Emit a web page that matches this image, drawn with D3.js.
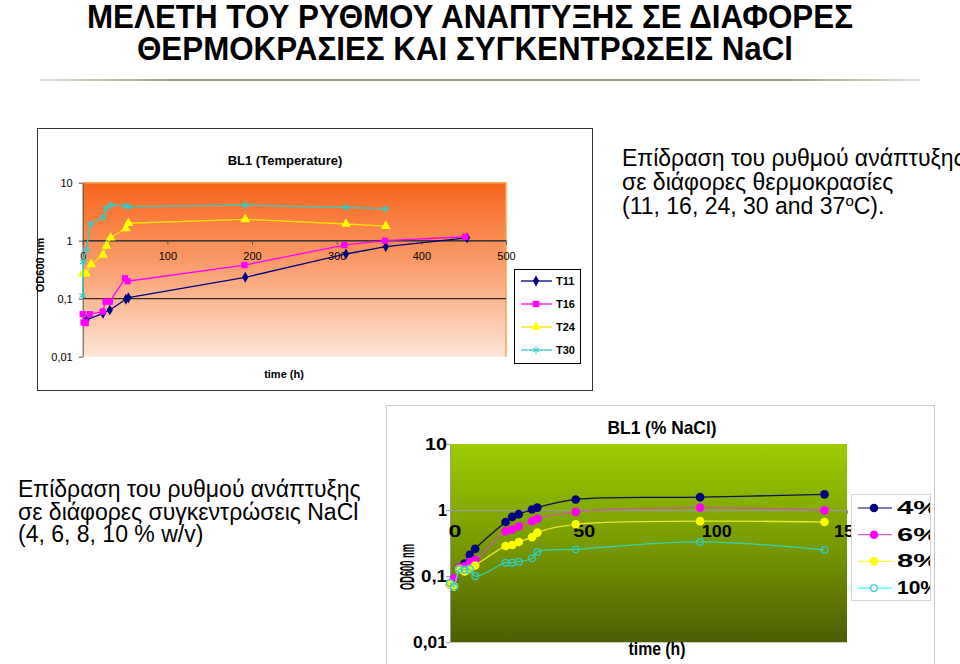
<!DOCTYPE html>
<html>
<head>
<meta charset="utf-8">
<script src="https://cdn.jsdelivr.net/npm/d3@7"></script>
<style>
  body { margin: 0; background: #fff; }
  svg { display: block; font-family: "Liberation Sans", Arial, sans-serif; }
</style>
</head>
<body>
<svg id="slide" width="960" height="664"></svg>
<script>
// ---- top chart data: BL1 (Temperature) ----
const t11Hours = [4.5, 24, 32, 51, 54, 192, 311, 358, 454];
const t11OD    = [0.043, 0.056, 0.064, 0.098, 0.104, 0.234, 0.59, 0.79, 1.12];
const t16Hours = [0, 1, 3.5, 8.5, 23.5, 27, 32, 50, 53, 191, 309, 357, 452];
const t16OD    = [0.054, 0.039, 0.038, 0.054, 0.06, 0.089, 0.089, 0.225, 0.2, 0.38, 0.84, 1.0, 1.17];
const t24Hours = [0, 4, 10, 24, 28, 33, 51, 54, 192, 311, 358];
const t24OD    = [0.27, 0.27, 0.39, 0.57, 0.81, 1.13, 1.63, 2.0, 2.34, 1.94, 1.79];
const t30Hours = [0, 0.7, 4, 9.4, 24, 27.5, 33, 51, 54, 192, 311, 358];
const t30OD    = [0.113, 0.43, 0.69, 1.94, 2.53, 3.6, 4.1, 3.96, 3.86, 4.1, 3.76, 3.56];
const tempNames = ["T11", "T16", "T24", "T30"];
const tempXTicks = [0, 100, 200, 300, 400, 500];

// ---- bottom chart data: BL1 (% NaCl) ----
const naclHours = [0, 1.5, 3.5, 5.5, 7.5, 9.5, 21, 23.5, 26, 31, 33, 47.5, 94.5, 141.5];
const nacl4  = [0.075, 0.09, 0.13, 0.155, 0.21, 0.26, 0.66, 0.79, 0.87, 1.02, 1.09, 1.45, 1.57, 1.73];
const nacl6  = [0.075, 0.092, 0.135, 0.14, 0.165, 0.176, 0.48, 0.51, 0.57, 0.68, 0.74, 0.94, 1.09, 0.99];
const nacl8  = [0.075, 0.07, 0.128, 0.118, 0.128, 0.145, 0.286, 0.296, 0.33, 0.39, 0.456, 0.61, 0.68, 0.66];
const nacl10 = [0.079, 0.069, 0.128, 0.125, 0.128, 0.10, 0.16, 0.16, 0.166, 0.187, 0.233, 0.255, 0.33, 0.25];
const naclNames = ["4%", "6%", "8%", "10%"];
const naclXTicks = [0, 50, 100, 150];

const logTicks = [0.01, 0.1, 1, 10];
const fmtComma = d => String(d).replace(".", ",");

const svg = d3.select("#slide");
const defs = svg.append("defs");

// ---------- slide texts ----------
svg.append("text").attr("x", 87).attr("y", 28)
  .attr("textLength", 766).attr("lengthAdjust", "spacingAndGlyphs")
  .style("font-weight", "bold").style("font-size", "34px")
  .text("ΜΕΛΕΤΗ ΤΟΥ ΡΥΘΜΟΥ ΑΝΑΠΤΥΞΗΣ ΣΕ ΔΙΑΦΟΡΕΣ");
svg.append("text").attr("x", 137).attr("y", 60)
  .attr("textLength", 656).attr("lengthAdjust", "spacingAndGlyphs")
  .style("font-weight", "bold").style("font-size", "34px")
  .text("ΘΕΡΜΟΚΡΑΣΙΕΣ ΚΑΙ ΣΥΓΚΕΝΤΡΩΣΕΙΣ NaCl");

const rule = defs.append("linearGradient").attr("id", "rule");
rule.append("stop").attr("offset", "0%").attr("stop-color", "#a39c7c").attr("stop-opacity", 0.3);
rule.append("stop").attr("offset", "15%").attr("stop-color", "#a39c7c");
rule.append("stop").attr("offset", "85%").attr("stop-color", "#a39c7c");
rule.append("stop").attr("offset", "100%").attr("stop-color", "#a39c7c").attr("stop-opacity", 0.3);
svg.append("rect").attr("x", 40).attr("y", 79).attr("width", 880).attr("height", 2).attr("fill", "url(#rule)");

const rightText = svg.append("text").style("font-size", "23px");
rightText.append("tspan").attr("x", 622).attr("y", 166).text("Επίδραση του ρυθμού ανάπτυξης");
rightText.append("tspan").attr("x", 622).attr("y", 190).text("σε διάφορες θερμοκρασίες");
rightText.append("tspan").attr("x", 622).attr("y", 214).text("(11, 16, 24, 30 and 37");
rightText.append("tspan").attr("dy", -8).style("font-size", "15px").text("o");
rightText.append("tspan").attr("dy", 8).text("C).");

const leftText = svg.append("text").style("font-size", "23px");
leftText.append("tspan").attr("x", 18).attr("y", 497).text("Επίδραση του ρυθμού ανάπτυξης");
leftText.append("tspan").attr("x", 18).attr("y", 520).text("σε διάφορες συγκεντρώσεις NaCl");
leftText.append("tspan").attr("x", 18).attr("y", 542).text("(4, 6, 8, 10 % w/v)");

// ---------- top chart ----------
svg.append("rect").attr("x", 37.5).attr("y", 128.5).attr("width", 555).attr("height", 262)
  .attr("fill", "#fff").attr("stroke", "#333");

const xT = d3.scaleLinear().domain([0, 500]).range([82.7, 506]);
const yT = d3.scaleLog().domain([0.01, 10]).range([356.7, 182.7]);

const gT = defs.append("linearGradient").attr("id", "bgTop").attr("x1", 0).attr("y1", 0).attr("x2", 0).attr("y2", 1);
gT.append("stop").attr("offset", "0%").attr("stop-color", "#f7651a");
gT.append("stop").attr("offset", "45%").attr("stop-color", "#f99a68");
gT.append("stop").attr("offset", "100%").attr("stop-color", "#fde5d6");
svg.append("rect").attr("x", xT(0)).attr("y", yT(10))
  .attr("width", xT(500) - xT(0)).attr("height", yT(0.01) - yT(10)).attr("fill", "url(#bgTop)");
svg.append("path")
  .attr("d", `M${xT(0)},${yT(10)}H${xT(500)}V${yT(0.01)}`)
  .attr("fill", "none").attr("stroke", "#f5a550").attr("stroke-width", 1.5);

svg.selectAll(".gridT").data([0.1, 1]).enter().append("line")
  .attr("x1", xT(0)).attr("x2", xT(500)).attr("y1", d => yT(d)).attr("y2", d => yT(d))
  .attr("stroke", "#3a2a22").attr("stroke-width", 1.2);

const axYT = svg.append("g").attr("transform", `translate(${xT(0)},0)`)
  .call(d3.axisLeft(yT).tickValues(logTicks).tickFormat(fmtComma).tickSize(4).tickSizeOuter(0));
axYT.selectAll("text").style("font-size", "11px").attr("dx", "-3");
const axXT = svg.append("g").attr("transform", `translate(0,${yT(1)})`)
  .call(d3.axisBottom(xT).tickValues(tempXTicks).tickSize(4).tickSizeOuter(0));
axXT.selectAll("text").style("font-size", "11px").attr("dy", "1.1em");
svg.selectAll(".domain").attr("stroke", "#555");
svg.selectAll(".tick line").attr("stroke", "#555");

const tempSeries = [
  { name: tempNames[0], hours: t11Hours, od: t11OD, color: "#000080", fill: "#000080", sym: d3.symbolDiamond, size: 34 },
  { name: tempNames[1], hours: t16Hours, od: t16OD, color: "#ff00ff", fill: "#ff00ff", sym: d3.symbolSquare, size: 40 },
  { name: tempNames[2], hours: t24Hours, od: t24OD, color: "#ffe000", fill: "#ffff00", sym: d3.symbolTriangle, size: 42 },
  { name: tempNames[3], hours: t30Hours, od: t30OD, color: "#33cccc", fill: "none", sym: d3.symbolAsterisk, size: 40 }
];
const lineT = d3.line().x(d => xT(d[0])).y(d => yT(d[1]));

tempSeries.forEach(s => {
  const pts = s.hours.map((h, i) => [h, s.od[i]]);
  svg.append("path").datum(pts).attr("d", lineT)
    .attr("fill", "none").attr("stroke", s.color).attr("stroke-width", 1.3);
  svg.selectAll(null).data(pts).enter().append("path")
    .attr("transform", d => `translate(${xT(d[0])},${yT(d[1])})`)
    .attr("d", d3.symbol(s.sym, s.size))
    .attr("fill", s.fill).attr("stroke", s.fill === "none" ? s.color : "none").attr("stroke-width", 1.2);
});

svg.append("text").attr("x", 285).attr("y", 165).attr("text-anchor", "middle")
  .style("font-size", "13px").style("font-weight", "bold").text("BL1 (Temperature)");
svg.append("text").attr("x", 284).attr("y", 378).attr("text-anchor", "middle")
  .style("font-size", "11px").style("font-weight", "bold").text("time (h)");
svg.append("text").attr("transform", "translate(44,265) rotate(-90)").attr("text-anchor", "middle")
  .style("font-size", "11px").style("font-weight", "bold").text("OD600 nm");

const legT = svg.append("g");
legT.append("rect").attr("x", 514.5).attr("y", 269.5).attr("width", 66).attr("height", 94)
  .attr("fill", "#fff").attr("stroke", "#000");
tempSeries.forEach((s, i) => {
  const y = 281 + i * 23;
  legT.append("line").attr("x1", 521).attr("x2", 552).attr("y1", y).attr("y2", y)
    .attr("stroke", s.color).attr("stroke-width", 1.3);
  legT.append("path").attr("transform", `translate(536,${y})`).attr("d", d3.symbol(s.sym, s.size))
    .attr("fill", s.fill).attr("stroke", s.fill === "none" ? s.color : "none");
  legT.append("text").attr("x", 556).attr("y", y + 4).style("font-size", "11px")
    .style("font-weight", "bold").text(s.name);
});

// ---------- bottom chart ----------
svg.append("rect").attr("x", 386.5).attr("y", 405.5).attr("width", 548).attr("height", 270)
  .attr("fill", "#fff").attr("stroke", "#c8c8c8");

const xB = d3.scaleLinear().domain([0, 150]).range([450, 847]);
const yB = d3.scaleLog().domain([0.01, 10]).range([642.3, 444]);

const gB = defs.append("linearGradient").attr("id", "bgBot").attr("x1", 0).attr("y1", 0).attr("x2", 0).attr("y2", 1);
gB.append("stop").attr("offset", "0%").attr("stop-color", "#9ccc00");
gB.append("stop").attr("offset", "50%").attr("stop-color", "#789a00");
gB.append("stop").attr("offset", "100%").attr("stop-color", "#4c5e04");
svg.append("rect").attr("x", xB(0)).attr("y", yB(10))
  .attr("width", xB(150) - xB(0)).attr("height", yB(0.01) - yB(10)).attr("fill", "url(#bgBot)");

svg.append("line").attr("x1", xB(0)).attr("x2", xB(150)).attr("y1", yB(1)).attr("y2", yB(1))
  .attr("stroke", "#8d9a62").attr("stroke-width", 1);

const axYB = svg.append("g").attr("transform", `translate(${xB(0)},0)`)
  .call(d3.axisLeft(yB).tickValues(logTicks).tickFormat(() => "").tickSize(4).tickSizeOuter(0));
const axXB = svg.append("g").attr("transform", `translate(0,${yB(1)})`)
  .call(d3.axisBottom(xB).tickValues(naclXTicks).tickFormat(() => "").tickSize(4).tickSizeOuter(0));
[axYB, axXB].forEach(a => {
  a.select(".domain").attr("stroke", "#9a9a9a");
  a.selectAll(".tick line").attr("stroke", "#9a9a9a");
});

// squeezed labels, as in the reference rendering
const yLabW = { 0.01: 34, 0.1: 26, 1: 9, 10: 22 };
svg.selectAll(".ylabB").data(logTicks).enter().append("text")
  .attr("x", 447).attr("y", d => yB(d) + 6).attr("text-anchor", "end")
  .attr("textLength", d => yLabW[d]).attr("lengthAdjust", "spacingAndGlyphs")
  .style("font-size", "17px").style("font-weight", "bold").text(fmtComma);
const xLabW = { 0: 13, 50: 22, 100: 30, 150: 30 };
svg.selectAll(".xlabB").data(naclXTicks).enter().append("text")
  .attr("x", d => xB(d) + (d === 0 ? 5 : 2)).attr("y", yB(1) + 27).attr("text-anchor", "middle")
  .attr("textLength", d => xLabW[d]).attr("lengthAdjust", "spacingAndGlyphs")
  .style("font-size", "17px").style("font-weight", "bold").text(d => d);

const naclSeries = [
  { name: naclNames[0], od: nacl4, line: "#10104a", fill: "#000080", open: false },
  { name: naclNames[1], od: nacl6, line: "#c85a9a", fill: "#ff00ff", open: false },
  { name: naclNames[2], od: nacl8, line: "#e8e830", fill: "#ffff00", open: false },
  { name: naclNames[3], od: nacl10, line: "#33d6b0", fill: "#33cccc", open: true }
];
const lineB = d3.line().x(d => xB(d[0])).y(d => yB(d[1])).curve(d3.curveCatmullRom.alpha(0.5));

naclSeries.forEach(s => {
  const pts = naclHours.map((h, i) => [h, s.od[i]]);
  svg.append("path").datum(pts).attr("d", lineB)
    .attr("fill", "none").attr("stroke", s.line).attr("stroke-width", 1.3);
  svg.selectAll(null).data(pts).enter().append("circle")
    .attr("cx", d => xB(d[0])).attr("cy", d => yB(d[1])).attr("r", s.open ? 3.3 : 4.3)
    .attr("fill", s.open ? "none" : s.fill)
    .attr("stroke", s.open ? s.fill : "none").attr("stroke-width", 1.3);
});

svg.append("text").attr("x", 662).attr("y", 434).attr("text-anchor", "middle")
  .attr("textLength", 109).attr("lengthAdjust", "spacingAndGlyphs")
  .style("font-size", "19px").style("font-weight", "bold").text("BL1 (% NaCl)");
svg.append("text").attr("x", 657).attr("y", 655).attr("text-anchor", "middle")
  .attr("textLength", 57).attr("lengthAdjust", "spacingAndGlyphs")
  .style("font-size", "19px").style("font-weight", "bold").text("time (h)");
svg.append("text").attr("transform", "translate(414,567) rotate(-90)").attr("text-anchor", "middle")
  .attr("textLength", 46).attr("lengthAdjust", "spacingAndGlyphs")
  .style("font-size", "21px").style("font-weight", "bold").text("OD600 nm");

// bottom legend (clipped at its right edge like the reference)
defs.append("clipPath").attr("id", "legClip").append("rect")
  .attr("x", 851).attr("y", 494).attr("width", 79).attr("height", 106);
const legB = svg.append("g");
legB.append("rect").attr("x", 851.5).attr("y", 494.5).attr("width", 79).attr("height", 106)
  .attr("fill", "#fff").attr("stroke", "#d4d4d4");
const legBI = legB.append("g").attr("clip-path", "url(#legClip)");
naclSeries.forEach((s, i) => {
  const y = 508 + i * 26.7;
  legBI.append("line").attr("x1", 858).attr("x2", 892).attr("y1", y).attr("y2", y)
    .attr("stroke", s.open ? "#33ffff" : (i === 1 ? "#cc66cc" : (i === 2 ? "#ffff33" : "#000080")))
    .attr("stroke-width", 1.2);
  legBI.append("circle").attr("cx", 874).attr("cy", y).attr("r", s.open ? 3.3 : 4.3)
    .attr("fill", s.open ? "#fff" : s.fill).attr("stroke", s.open ? s.fill : "none").attr("stroke-width", 1.3);
  legBI.append("text").attr("x", 897).attr("y", y + 6)
    .attr("textLength", 42).attr("lengthAdjust", "spacingAndGlyphs")
    .style("font-size", "18px").style("font-weight", "bold").text(s.name);
});
</script>
</body>
</html>
